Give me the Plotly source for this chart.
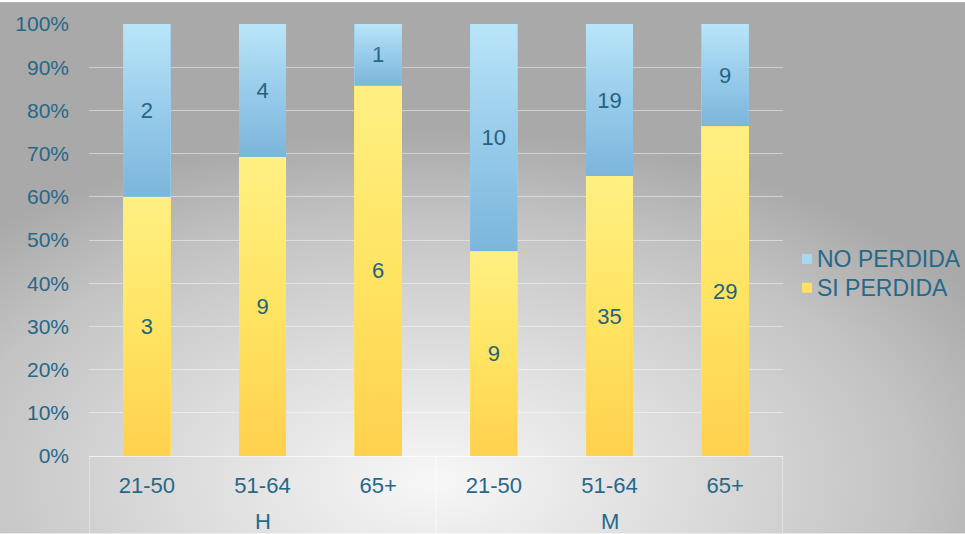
import base64
import plotly.graph_objects as go

# ---- data ----
groups = ["H", "H", "H", "M", "M", "M"]
age_labels = ["21-50", "51-64", "65+", "21-50", "51-64", "65+"]
si_perdida = [3, 9, 6, 9, 35, 29]
no_perdida = [2, 4, 1, 10, 19, 9]
series_names = ["SI PERDIDA", "NO PERDIDA"]
y_ticks = [0, 10, 20, 30, 40, 50, 60, 70, 80, 90, 100]
y_ticktext = [f"{v}%" for v in y_ticks]

W, H = 965, 534
ML, MR, MT, MB = 89, 182, 22, 78
PW, PH = W - ML - MR, H - MT - MB
BAR_W = 0.41

teal = "#26688A"
label_col = "#22607C"
font_family = "Liberation Sans, Arial, sans-serif"
yellow_mid, blue_mid = "#FFE463", "#98CCEB"


def px_x(p):
    return (p - ML) / PW


def px_y(p):
    return 1 - (p - MT) / PH


x_idx = list(range(len(age_labels)))

fig = go.Figure()
for name, vals, col in [(series_names[0], si_perdida, yellow_mid),
                        (series_names[1], no_perdida, blue_mid)]:
    fig.add_trace(go.Bar(
        x=x_idx, y=vals, name=name, showlegend=False,
        marker=dict(color=col, line=dict(width=0)),
        text=[str(v) for v in vals], textposition="inside",
        insidetextanchor="middle", width=BAR_W, hoverinfo="skip",
        textfont=dict(size=22, color=label_col, family=font_family),
    ))


def b64svg(s):
    return "data:image/svg+xml;base64," + base64.b64encode(s.encode()).decode()


# radial grey background
bg_svg = f'''<svg xmlns="http://www.w3.org/2000/svg" width="{W}" height="{H}" preserveAspectRatio="none">
<defs><radialGradient id="g" cx="0.45" cy="0.9" r="0.66" gradientUnits="objectBoundingBox">
<stop offset="0" stop-color="#F7F7F7"/>
<stop offset="0.4" stop-color="#DCDCDC"/>
<stop offset="0.75" stop-color="#C3C3C3"/>
<stop offset="1" stop-color="#A9A9A9"/>
</radialGradient></defs>
<rect width="{W}" height="{H}" fill="url(#g)"/>
</svg>'''
fig.add_layout_image(dict(
    source=b64svg(bg_svg), xref="paper", yref="paper",
    x=-ML / PW, y=1 + MT / PH, sizex=W / PW, sizey=H / PH,
    xanchor="left", yanchor="top", sizing="stretch", layer="below",
))


# translucent vertical gradient overlays to shade each bar segment
def overlay(top_col, top_op, bot_col, bot_op):
    s = f'''<svg xmlns="http://www.w3.org/2000/svg" width="10" height="100" preserveAspectRatio="none">
<defs><linearGradient id="l" x1="0" y1="0" x2="0" y2="1">
<stop offset="0" stop-color="{top_col}" stop-opacity="{top_op}"/>
<stop offset="0.5" stop-color="{top_col}" stop-opacity="0"/>
<stop offset="0.5" stop-color="{bot_col}" stop-opacity="0"/>
<stop offset="1" stop-color="{bot_col}" stop-opacity="{bot_op}"/>
</linearGradient></defs>
<rect width="10" height="100" fill="url(#l)"/>
</svg>'''
    return b64svg(s)


yellow_ov = overlay("#FFF590", 0.7, "#FFC440", 0.6)
blue_ov = overlay("#C8F0FF", 0.7, "#5F9FCB", 0.5)

for i in x_idx:
    total = si_perdida[i] + no_perdida[i]
    si_pct = 100.0 * si_perdida[i] / total
    for top, height, src in [(si_pct, si_pct, yellow_ov), (100.0, 100.0 - si_pct, blue_ov)]:
        fig.add_layout_image(dict(
            source=src, xref="x", yref="y", x=i - BAR_W / 2, y=top,
            sizex=BAR_W, sizey=height, xanchor="left", yanchor="top",
            sizing="stretch", layer="above",
        ))

# category box lines (left, group divider, right)
line_col = "rgba(255,255,255,0.65)"
for xv in [-0.5, 2.5, 5.5]:
    fig.add_shape(type="line", xref="x", yref="paper", x0=xv, x1=xv,
                  y0=0, y1=-(MB + 5) / PH, line=dict(color=line_col, width=1))

# group labels
for gname, cx in [("H", 1), ("M", 4)]:
    fig.add_annotation(x=cx, xref="x", y=px_y(522), yref="paper",
                       text=gname, showarrow=False, yanchor="middle",
                       font=dict(size=22, color=teal, family=font_family))

# legend (drawn manually to match placement)
legend_rows = [(series_names[1], "#A6D8F2", 258), (series_names[0], "#FFE060", 287)]
for name, col, yc in legend_rows:
    fig.add_shape(type="rect", xref="paper", yref="paper",
                  x0=px_x(802), x1=px_x(812), y0=px_y(yc + 5), y1=px_y(yc - 5),
                  fillcolor=col, line=dict(width=0))
    fig.add_annotation(x=px_x(815), y=px_y(yc), xref="paper", yref="paper",
                       text=name, showarrow=False, xanchor="left", yanchor="middle",
                       font=dict(size=23, color=teal, family=font_family))

fig.update_layout(
    width=W, height=H,
    margin=dict(l=ML, r=MR, t=MT, b=MB),
    barmode="stack", barnorm="percent", showlegend=False,
    paper_bgcolor="rgba(0,0,0,0)", plot_bgcolor="rgba(0,0,0,0)",
    font=dict(family=font_family, color=teal),
    xaxis=dict(
        range=[-0.5, 5.5], tickmode="array", tickvals=x_idx, ticktext=age_labels,
        tickfont=dict(size=22, color=teal, family=font_family),
        showgrid=False, zeroline=False, showline=True, linecolor=line_col,
        linewidth=1, ticks="", ticklabelstandoff=10,
    ),
    yaxis=dict(
        range=[0, 100], tickmode="array", tickvals=y_ticks, ticktext=y_ticktext,
        tickfont=dict(size=21, color=teal, family=font_family),
        showgrid=True, gridcolor="rgba(255,255,255,0.45)", gridwidth=1,
        zeroline=False, showline=False, ticks="", ticklabelstandoff=19,
    ),
)

fig.write_html(
    "out.html",
    config={"displayModeBar": False},
    post_script="document.body.style.margin='0';document.body.style.padding='0';",
)
